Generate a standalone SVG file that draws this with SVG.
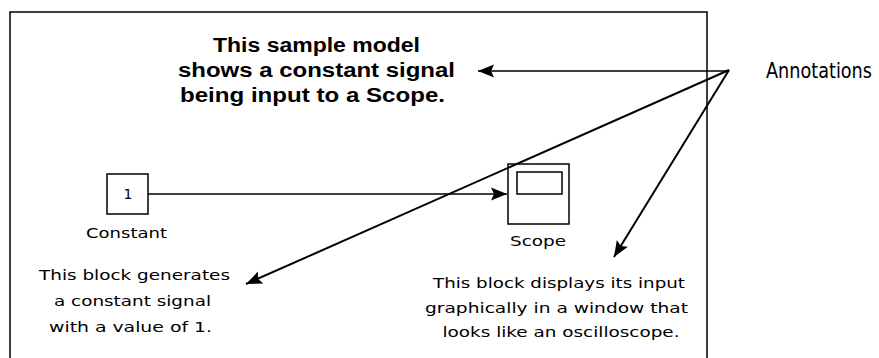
<svg xmlns="http://www.w3.org/2000/svg" width="879" height="358" viewBox="0 0 879 358">
<style>
.frame{fill:none;stroke:#000;stroke-width:1.5}
.blk{fill:#fff;stroke:#000;stroke-width:1.5}
.ln{fill:none;stroke:#000;stroke-width:1.5}
.ann{fill:none;stroke:#000;stroke-width:2}
.title{font-family:"Liberation Sans",Arial,sans-serif;font-weight:bold;font-size:20px;fill:#000}
.body{font-family:"DejaVu Sans","Liberation Sans",sans-serif;font-size:14px;fill:#000}
.lab{font-family:"DejaVu Sans","Liberation Sans",sans-serif;font-size:14px;fill:#000}
.annlab{font-family:"DejaVu Sans Condensed","DejaVu Sans",sans-serif;font-size:21px;fill:#000}
</style>
<defs>
<marker id="ah" markerUnits="userSpaceOnUse" markerWidth="20" markerHeight="16" viewBox="0 -8 17 16" refX="16" refY="0" orient="auto">
<path d="M0,-6.5 L16,0 L0,6.5 L3,0 z" fill="#000"/>
</marker>
</defs>
<rect width="879" height="358" fill="#fff"/>
<path class="frame" d="M10,370 L10,12 L707,12 L707,370"/>
<g id="title">
<text class="title" x="316.5" y="52" text-anchor="middle" textLength="207" lengthAdjust="spacingAndGlyphs">This sample model</text>
<text class="title" x="316.5" y="77" text-anchor="middle" textLength="277" lengthAdjust="spacingAndGlyphs">shows a constant signal</text>
<text class="title" x="312.5" y="102" text-anchor="middle" textLength="265" lengthAdjust="spacingAndGlyphs">being input to a Scope.</text>
</g>
<g id="constant">
<rect class="blk" x="107" y="174" width="41" height="40"/>
<text class="lab" x="128" y="199" text-anchor="middle">1</text>
<text class="lab" x="126.5" y="238" text-anchor="middle" textLength="81" lengthAdjust="spacingAndGlyphs">Constant</text>
</g>
<g id="scope">
<rect class="blk" x="508" y="164" width="61" height="60"/>
<rect class="blk" x="517" y="172" width="45" height="22"/>
<text class="lab" x="538" y="246" text-anchor="middle" textLength="56" lengthAdjust="spacingAndGlyphs">Scope</text>
</g>
<g id="constant-note">
<text class="body" x="134.5" y="280" text-anchor="middle" textLength="191" lengthAdjust="spacingAndGlyphs">This block generates</text>
<text class="body" x="132.5" y="306" text-anchor="middle" textLength="157" lengthAdjust="spacingAndGlyphs">a constant signal</text>
<text class="body" x="130.5" y="332" text-anchor="middle" textLength="163" lengthAdjust="spacingAndGlyphs">with a value of 1.</text>
</g>
<g id="scope-note">
<text class="body" x="559" y="288" text-anchor="middle" textLength="252" lengthAdjust="spacingAndGlyphs">This block displays its input</text>
<text class="body" x="556.5" y="313" text-anchor="middle" textLength="263" lengthAdjust="spacingAndGlyphs">graphically in a window that</text>
<text class="body" x="561" y="337" text-anchor="middle" textLength="237" lengthAdjust="spacingAndGlyphs">looks like an oscilloscope.</text>
</g>
<g id="annotations-label">
<text class="annlab" x="766" y="78" textLength="106" lengthAdjust="spacingAndGlyphs">Annotations</text>
</g>
<g id="connectors">
<line class="ln" x1="148" y1="194" x2="507" y2="194" marker-end="url(#ah)"/>
<line class="ln" x1="729" y1="71" x2="478" y2="71" marker-end="url(#ah)"/>
<line class="ann" x1="729" y1="70" x2="246" y2="284" marker-end="url(#ah)"/>
<line class="ann" x1="729" y1="70" x2="614" y2="257" marker-end="url(#ah)"/>
</g>
</svg>
